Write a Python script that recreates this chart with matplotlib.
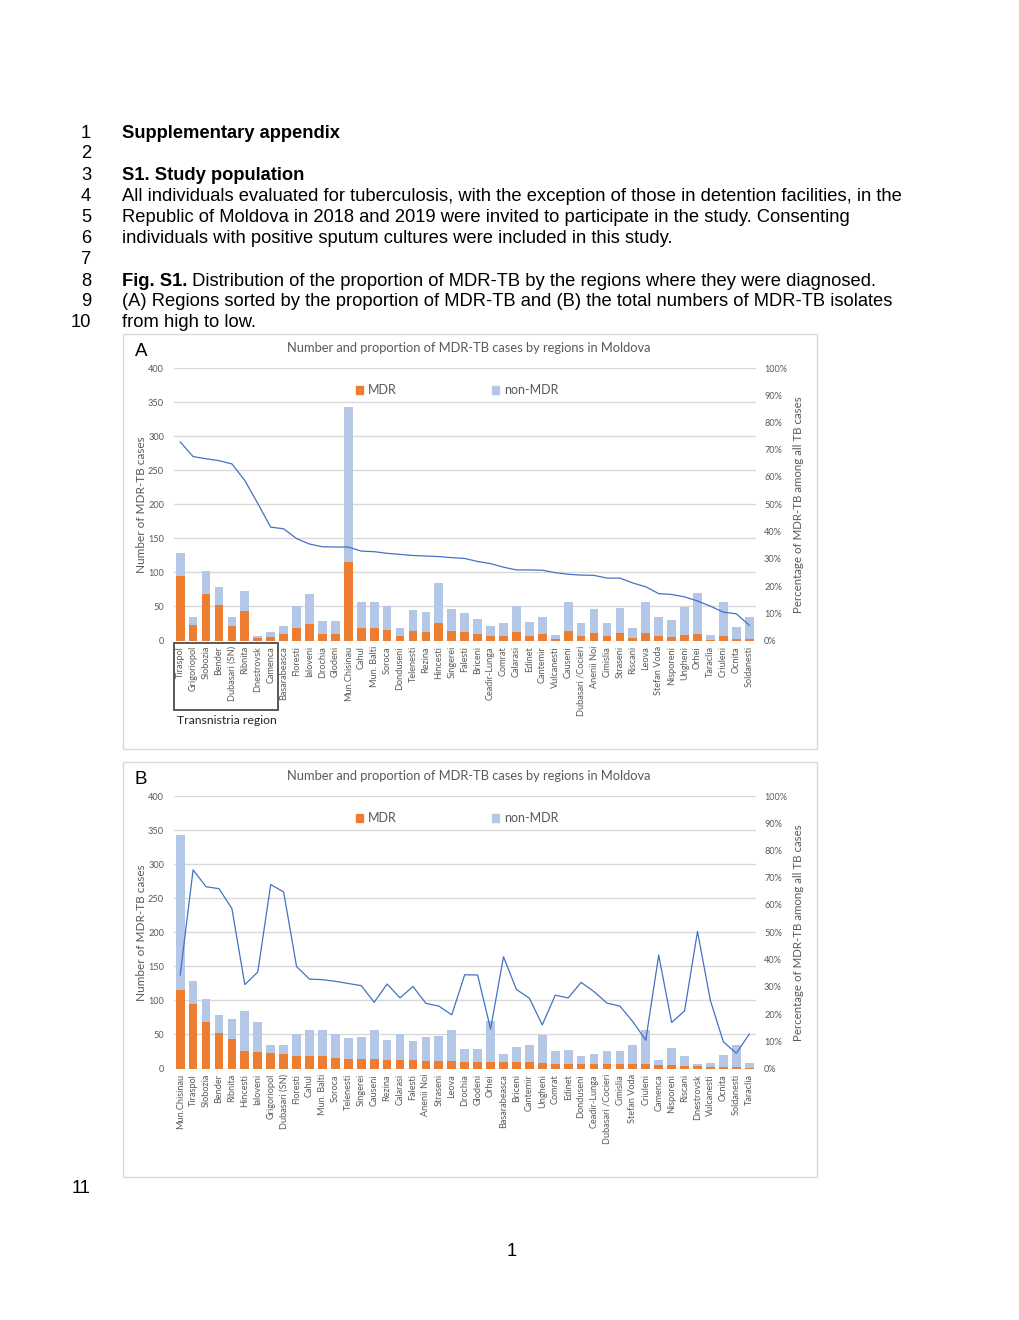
import matplotlib
matplotlib.use('Agg')
import matplotlib.pyplot as plt
from matplotlib.patches import Rectangle, Patch
from matplotlib.ticker import PercentFormatter

# Regions in the order of chart A (sorted by proportion of MDR-TB)
regions = ['Tiraspol', 'Grigoriopol', 'Slobozia', 'Bender', 'Dubasari (SN)', 'Ribnita',
           'Dnestrovsk', 'Camenca', 'Basarabeasca', 'Floresti', 'Ialoveni', 'Drochia',
           'Glodeni', 'Mun.Chisinau', 'Cahul', 'Mun. Balti', 'Soroca', 'Donduseni',
           'Telenesti', 'Rezina', 'Hincesti', 'Singerei', 'Falesti', 'Briceni',
           'Ceadir-Lunga', 'Comrat', 'Calarasi', 'Edinet', 'Cantemir', 'Vulcanesti',
           'Causeni', 'Dubasari /Cocieri', 'Anenii Noi', 'Cimislia', 'Straseni', 'Riscani',
           'Leova', 'Stefan Voda', 'Nisporeni', 'Ungheni', 'Orhei', 'Taraclia', 'Criuleni',
           'Ocnita', 'Soldanesti']
mdr = [94, 23, 68, 52, 22, 43, 3, 5, 9, 19, 24, 10, 10, 115, 19, 19, 16, 6, 14, 13, 26,
       14, 12, 9, 6, 7, 13, 7, 9, 2, 14, 6, 11, 6, 11, 4, 11, 6, 5, 8, 10, 1, 6, 2, 2]
non_mdr = [35, 11, 34, 27, 12, 30, 3, 7, 13, 32, 44, 19, 19, 228, 38, 38, 34, 13, 31, 29,
           59, 32, 28, 22, 15, 19, 37, 20, 26, 6, 43, 19, 35, 20, 37, 15, 45, 29, 25, 41,
           59, 7, 51, 18, 33]
pct = [72.9, 67.5, 66.7, 66.0, 64.8, 58.7, 50.3, 41.6, 41.0, 37.4, 35.4, 34.4, 34.3,
       34.3, 32.8, 32.6, 32.0, 31.6, 31.2, 31.0, 30.8, 30.4, 30.1, 29.0, 28.2, 26.9,
       25.9, 25.9, 25.8, 24.9, 24.3, 24.0, 23.9, 22.9, 22.9, 21.1, 19.7, 17.2, 16.9,
       16.0, 14.5, 12.6, 10.4, 9.8, 5.6]

# Order of chart B (sorted by number of MDR-TB isolates)
order_b = ['Mun.Chisinau', 'Tiraspol', 'Slobozia', 'Bender', 'Ribnita', 'Hincesti',
           'Ialoveni', 'Grigoriopol', 'Dubasari (SN)', 'Floresti', 'Cahul', 'Mun. Balti',
           'Soroca', 'Telenesti', 'Singerei', 'Causeni', 'Rezina', 'Calarasi', 'Falesti',
           'Anenii Noi', 'Straseni', 'Leova', 'Drochia', 'Glodeni', 'Orhei', 'Basarabeasca',
           'Briceni', 'Cantemir', 'Ungheni', 'Comrat', 'Edinet', 'Donduseni', 'Ceadir-Lunga',
           'Dubasari /Cocieri', 'Cimislia', 'Stefan Voda', 'Criuleni', 'Camenca', 'Nisporeni',
           'Riscani', 'Dnestrovsk', 'Vulcanesti', 'Ocnita', 'Soldanesti', 'Taraclia']

doc_lines = [
    ('1', 'Supplementary appendix', 'bold'),
    ('2', '', 'normal'),
    ('3', 'S1. Study population', 'bold'),
    ('4', 'All individuals evaluated for tuberculosis, with the exception of those in detention facilities, in the', 'normal'),
    ('5', 'Republic of Moldova in 2018 and 2019 were invited to participate in the study. Consenting', 'normal'),
    ('6', 'individuals with positive sputum cultures were included in this study.', 'normal'),
    ('7', '', 'normal'),
    ('8', 'Fig. S1.', 'bold'),
    ('9', '(A) Regions sorted by the proportion of MDR-TB and (B) the total numbers of MDR-TB isolates', 'normal'),
    ('10', 'from high to low.', 'normal'),
]
fig8_rest = ' Distribution of the proportion of MDR-TB by the regions where they were diagnosed.'

ORANGE = '#ED7D31'
LBLUE = '#B4C7E7'
LINE = '#4472C4'
GRID = '#D9D9D9'
TXT = '#595959'
CHART_FONT = ['Lato', 'DejaVu Sans']
DOC_FONT = ['Liberation Sans', 'DejaVu Sans']
DOC_SIZE = 13.25

W, H = 1020, 1320
fig = plt.figure(figsize=(W / 100, H / 100), dpi=100)
fig.patch.set_facecolor('white')


def fx(x):
    return x / W


def fy(y):
    return 1 - y / H


# ---- document text ----
line_y = [133.5, 154, 175.5, 196.5, 217.5, 238.5, 259, 281, 301.5, 322.5]
renderer = fig.canvas.get_renderer()
for (num, txt, weight), y in zip(doc_lines, line_y):
    fig.text(fx(91), fy(y), num, ha='right', va='center', fontsize=DOC_SIZE, family=DOC_FONT)
    if txt:
        t = fig.text(fx(122), fy(y), txt, ha='left', va='center', fontsize=DOC_SIZE,
                     family=DOC_FONT, fontweight=weight)
        if num == '8':
            bb = t.get_window_extent(renderer)
            fig.text(bb.x1 / W, fy(y), fig8_rest, ha='left', va='center', fontsize=DOC_SIZE,
                     family=DOC_FONT)
fig.text(fx(91), fy(1188.5), '11', ha='right', va='center', fontsize=DOC_SIZE, family=DOC_FONT)
fig.text(fx(512), fy(1251.5), '1', ha='center', va='center', fontsize=DOC_SIZE, family=DOC_FONT)


def draw_chart(top, names, m, n, p, letter, transnistria=False):
    # frame around the chart
    fig.patches.append(Rectangle((fx(123), fy(top + 415)), fx(817) - fx(123), 415 / H,
                                 transform=fig.transFigure, fill=False, edgecolor=GRID,
                                 linewidth=1.0))
    y400 = top + 34
    y0 = top + 306.5
    ax = fig.add_axes([fx(173.7), fy(y0), fx(755.7) - fx(173.7), (y0 - y400) / H])
    x = list(range(len(names)))
    ax.bar(x, m, width=0.68, color=ORANGE, zorder=2)
    ax.bar(x, n, bottom=m, width=0.68, color=LBLUE, zorder=2)
    ax.set_xlim(-0.5, len(names) - 0.5)
    ax.set_ylim(0, 400)
    ax.set_yticks(range(0, 401, 50))
    ax.yaxis.grid(True, color=GRID, linewidth=1.0, zorder=0)
    ax.set_axisbelow(True)
    for s in ax.spines.values():
        s.set_visible(False)
    ax.tick_params(axis='both', length=0, colors=TXT)
    ax.tick_params(axis='y', labelsize=6.6, pad=7)
    ax.set_xticks(x)
    ax.set_xticklabels(names, rotation=90, fontsize=6.6, family=CHART_FONT, color=TXT)
    ax.tick_params(axis='x', pad=4)
    for lab in ax.get_yticklabels():
        lab.set_family(CHART_FONT)
    ax.set_ylabel('Number of MDR-TB cases', fontsize=8.5, family=CHART_FONT, color=TXT,
                  labelpad=1)

    ax2 = ax.twinx()
    ax2.plot(x, p, color=LINE, linewidth=0.9, zorder=3)
    ax2.set_ylim(0, 100)
    ax2.set_yticks(range(0, 101, 10))
    ax2.yaxis.set_major_formatter(PercentFormatter(decimals=0))
    for s in ax2.spines.values():
        s.set_visible(False)
    ax2.tick_params(axis='y', length=0, labelsize=6.6, colors=TXT, pad=6)
    for lab in ax2.get_yticklabels():
        lab.set_family(CHART_FONT)
    ax2.set_ylabel('Percentage of MDR-TB among all TB cases', fontsize=8.3,
                   family=CHART_FONT, color=TXT, labelpad=4)

    handles = [Patch(color=ORANGE, label='MDR'), Patch(color=LBLUE, label='non-MDR')]
    ax.legend(handles=handles, loc='center', bbox_to_anchor=(0.487, 1 - (22.5 / (y0 - y400))),
              ncol=2, frameon=False, handlelength=0.55, handleheight=0.55,
              handletextpad=0.4, columnspacing=7.6, prop={'family': CHART_FONT, 'size': 9},
              labelcolor=TXT)

    fig.text(fx(469), fy(top + 14), 'Number and proportion of MDR-TB cases by regions in Moldova',
             ha='center', va='center', fontsize=9.3, family=CHART_FONT, color=TXT)
    fig.text(fx(135), fy(top + 17), letter, ha='left', va='center', fontsize=13.5,
             family=DOC_FONT)

    if transnistria:
        fig.patches.append(Rectangle((fx(174.5), fy(710)), fx(278.5) - fx(174.5), (710 - 643) / H,
                                     transform=fig.transFigure, fill=False,
                                     edgecolor='#595959', linewidth=1.4))
        fig.text(fx(227), fy(720), 'Transnistria region', ha='center', va='center',
                 fontsize=8.8, family=CHART_FONT, color='#262626')


draw_chart(334, regions, mdr, non_mdr, pct, 'A', transnistria=True)

idx = [regions.index(r) for r in order_b]
draw_chart(762, order_b, [mdr[i] for i in idx], [non_mdr[i] for i in idx],
           [pct[i] for i in idx], 'B')

fig.savefig('out.png', dpi=100, facecolor='white')
